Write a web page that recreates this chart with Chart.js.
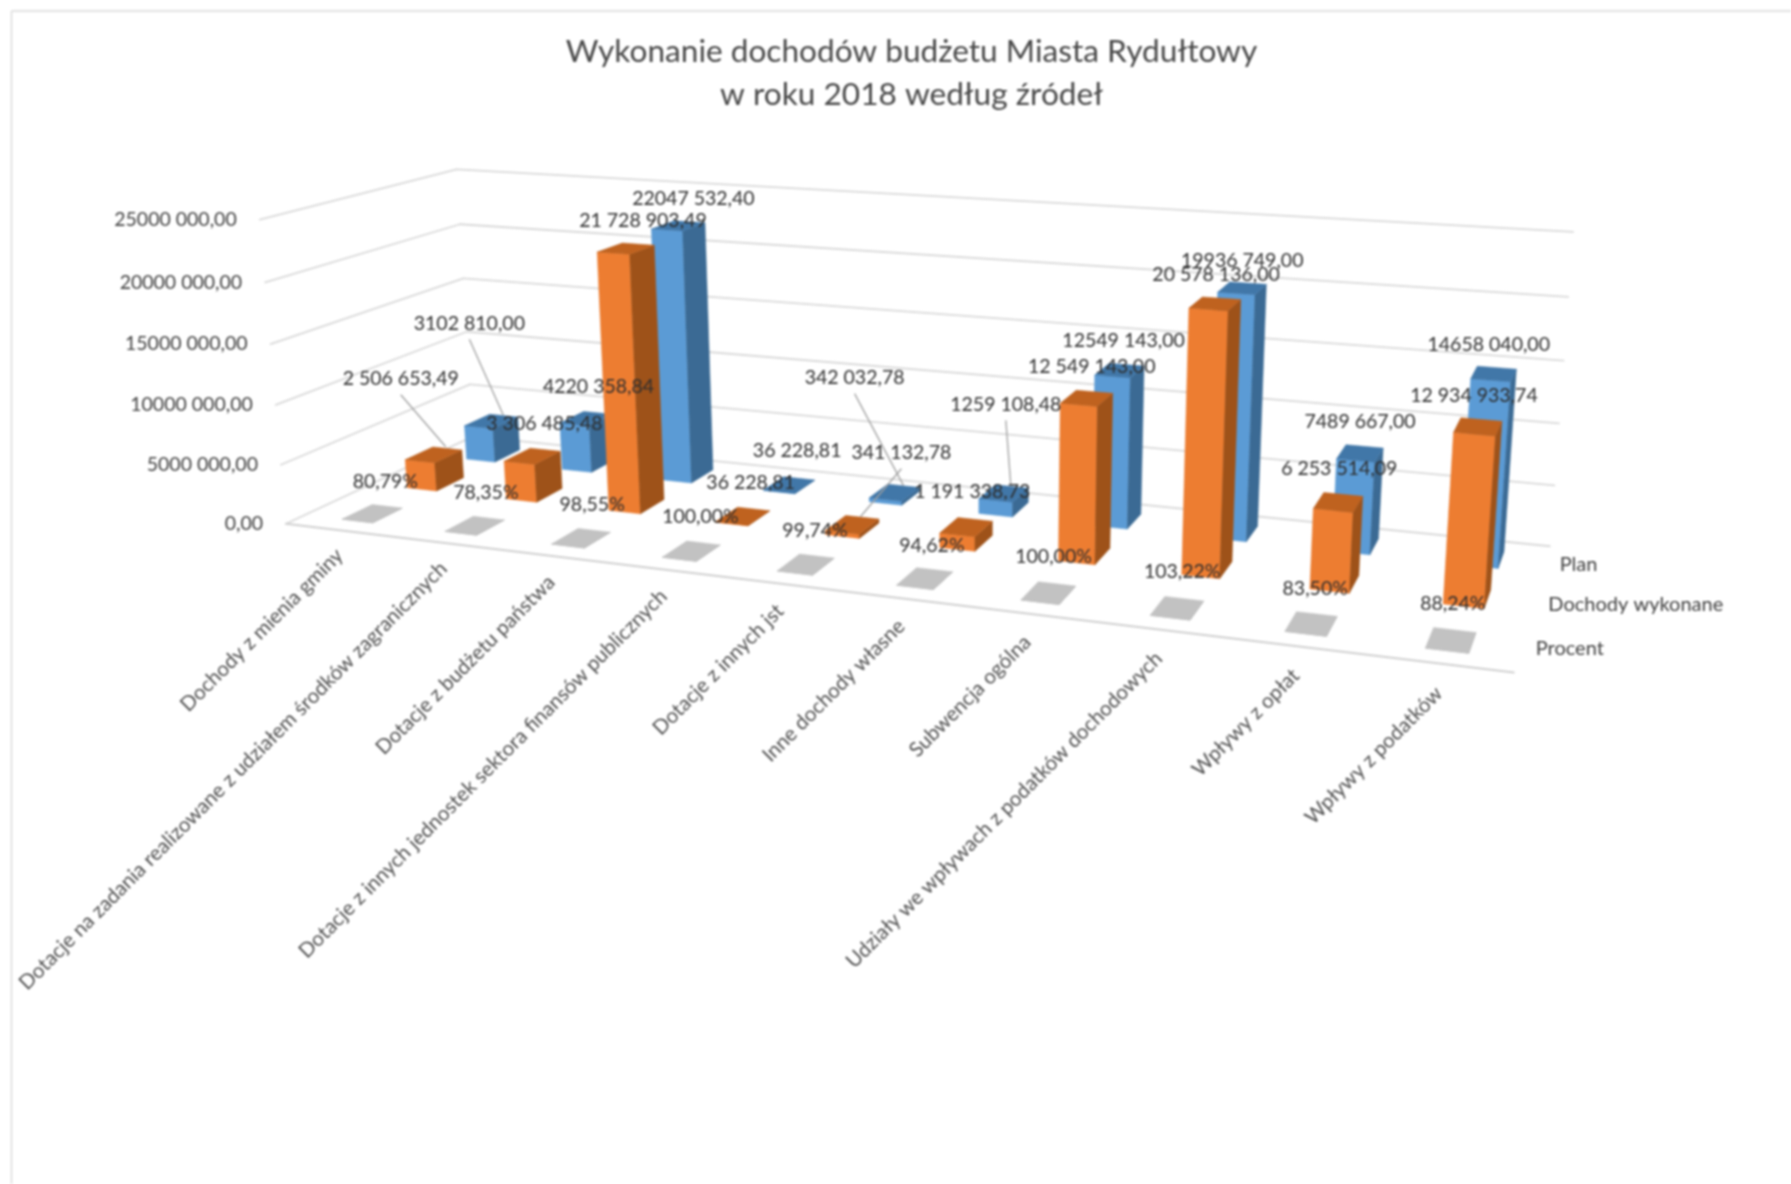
<!DOCTYPE html>
<html lang="pl"><head><meta charset="utf-8">
<script src="https://cdn.jsdelivr.net/npm/chart.js@4/dist/chart.umd.min.js"></script>
<style>html,body{margin:0;background:#fff;overflow:hidden}#w{position:absolute;left:0;top:0;width:1791px;height:1184px;filter:blur(0.8px)}</style>
</head><body><div id="w"><canvas id="c" width="1791" height="1184"></canvas></div>
<script>
const categories = ['Dochody z mienia gminy','Dotacje na zadania realizowane z udziałem środków zagranicznych','Dotacje z budżetu państwa','Dotacje z innych jednostek sektora finansów publicznych','Dotacje z innych jst','Inne dochody własne','Subwencja ogólna','Udziały we wpływach z podatków dochodowych','Wpływy z opłat','Wpływy z podatków'];
const plan = [3102810.00,4220358.84,22047532.40,36228.81,342032.78,1259108.48,12549143.00,19936749.00,7489667.00,14658040.00];
const wykonane = [2506653.49,3306485.48,21728903.49,36228.81,341132.78,1191338.73,12549143.00,20578136.00,6253514.09,12934933.74];
const procent = [80.79,78.35,98.55,100.00,99.74,94.62,100.00,103.22,83.50,88.24];

// data-label offsets from the projected top of each bar (page px)
const labelOffsets = [
 [[-22,-98],[12,-32],[15,-27],[8,-34],[-40,-115],[2,-89],[4,-30],[0,-28],[0,-32],[-5,-29]],
 [[-33,-76],[12,-32],[17,-28],[8,-33],[49,-72],[6,-35],[5,-31],[1,-29],[1,-34],[-4,-31]],
 [[13,-32],[11,-33],[11,-33],[9,-34],[9,-34],[7,-33],[5,-36],[5,-36],[4,-35],[2,-36]]
];
// leader lines: series, category, end offset from the bar's top centre
const leaders = [[0,0,12,-6],[1,0,12,-8],[0,4,9,-7],[1,4,8,-8],[0,5,7,-8]];
const FONT='Lato, "Open Sans", sans-serif';
const SIDE={ '#5B9BD5':'#3B6A94', '#ED7D31':'#9E5219', '#A5A5A5':'#8a8a8a' };
const TOP={ '#5B9BD5':'#4177A8', '#ED7D31':'#BF621F', '#A5A5A5':'#C2C2C2' };
const ROW_V=[5/6,1/2,1/6], HALF_D=0.075, BAR_U_SHIFT=0.0015;

// camera fit: axis-frame corners (u along categories, v depth, w height) → page
const frame=[];
const FL=[[286,523],[282,464],[275,405],[270,344],[265,283],[260,220]];
const BL=[[473,437],[469,385],[468,333],[464,277],[459,224],[457,169]];
const BR=[[1550,546],[1554,485],[1559,423],[1564,361],[1568,297],[1573,232]];
for(let i=0;i<6;i++){frame.push([0,0,i/5,...FL[i]],[0,1,i/5,...BL[i]],[1,1,i/5,...BR[i]]);}
frame.push([1,0,0,1514,673]);
function fitCamera(pts){
  const n=11,A=Array.from({length:n},()=>new Array(n+1).fill(0));
  const add=(r,b)=>{for(let i=0;i<n;i++){for(let j=0;j<n;j++)A[i][j]+=r[i]*r[j];A[i][n]+=r[i]*b;}};
  for(const [X,Y,Z,px,py] of pts){const x=px/1000,y=py/1000;
    add([X,Y,Z,1,0,0,0,0,-x*X,-x*Y,-x*Z],x);
    add([0,0,0,0,X,Y,Z,1,-y*X,-y*Y,-y*Z],y);}
  for(let c=0;c<n;c++){let m=c;for(let r=c+1;r<n;r++)if(Math.abs(A[r][c])>Math.abs(A[m][c]))m=r;[A[c],A[m]]=[A[m],A[c]];
    for(let r=0;r<n;r++){if(r===c)continue;const f=A[r][c]/A[c][c];for(let k=c;k<=n;k++)A[r][k]-=f*A[c][k];}}
  return A.map((r,i)=>r[n]/r[i]);
}
const P=fitCamera(frame);
function proj(u,v,w){const d=P[8]*u+P[9]*v+P[10]*w+1;
  return [1000*(P[0]*u+P[1]*v+P[2]*w+P[3])/d,1000*(P[4]*u+P[5]*v+P[6]*w+P[7])/d];}

function fmtPlan(n){const s=n.toFixed(2).split('.');const a=s[0];return (a.length>3?a.slice(0,-3)+' '+a.slice(-3):a)+','+s[1];}
function fmtFull(n){const s=n.toFixed(2).split('.');return s[0].replace(/\B(?=(\d{3})+$)/g,' ')+','+s[1];}
function fmtPct(n){return n.toFixed(2).replace('.',',')+'%';}
const FORMATS=[fmtPlan,fmtFull,fmtPct];

function poly(ctx,pts,fill){ctx.beginPath();pts.forEach((p,i)=>i?ctx.lineTo(p[0],p[1]):ctx.moveTo(p[0],p[1]));ctx.closePath();ctx.fillStyle=fill;ctx.fill();ctx.strokeStyle=fill;ctx.lineWidth=.5;ctx.stroke();}
function line(ctx,a,b,col,lw){ctx.beginPath();ctx.moveTo(a[0],a[1]);ctx.lineTo(b[0],b[1]);ctx.strokeStyle=col;ctx.lineWidth=lw;ctx.stroke();}
function barGeom(chart,el){const xs=chart.scales.x,ys=chart.scales.y;return {u:(el.x-xs.left)/xs.width+BAR_U_SHIFT,h:el.width/2/xs.width,w:(ys.bottom-el.y)/ys.height};}

const persp={id:'persp',
  beforeDraw(chart){const c=chart.ctx;c.save();line(c,[11.5,11],[1791,11],'#D9D9D9',1.5);line(c,[11.5,11],[11.5,1184],'#D9D9D9',1.5);c.restore();},
  beforeDatasetsDraw(chart){const c=chart.ctx,ys=chart.scales.y;c.save();c.lineCap='round';
    ys.ticks.forEach(t=>{const w=(ys.bottom-ys.getPixelForValue(t.value))/ys.height;
      const a=proj(0,0,w),b=proj(0,1,w),d=proj(1,1,w);line(c,a,b,'#D9D9D9',1.8);line(c,b,d,'#D9D9D9',1.8);});
    line(c,proj(0,0,0),proj(1,0,0),'#D0D0D0',2);c.restore();},
  beforeDatasetDraw(chart,args){const c=chart.ctx,ds=chart.data.datasets[args.index],col=ds.backgroundColor,v=ROW_V[args.index];
    c.save();args.meta.data.forEach(el=>{const g=barGeom(chart,el),u0=g.u-g.h,u1=g.u+g.h,v0=v-HALF_D,v1=v+HALF_D;
      poly(c,[proj(u0,v0,0),proj(u1,v0,0),proj(u1,v0,g.w),proj(u0,v0,g.w)],col);
      poly(c,[proj(u1,v0,0),proj(u1,v1,0),proj(u1,v1,g.w),proj(u1,v0,g.w)],SIDE[col]);
      poly(c,[proj(u0,v0,g.w),proj(u1,v0,g.w),proj(u1,v1,g.w),proj(u0,v1,g.w)],TOP[col]);});
    c.restore();return false;},
  afterDatasetsDraw(chart){const c=chart.ctx,xs=chart.scales.x,ys=chart.scales.y;c.save();
    c.font='19.5px '+FONT;c.fillStyle='#404040';c.textAlign='right';c.textBaseline='middle';
    ys.ticks.forEach(t=>{const w=(ys.bottom-ys.getPixelForValue(t.value))/ys.height,p=proj(0,0,w);c.fillText(t.label,p[0]-23,p[1]);});
    categories.forEach((lab,i)=>{const u=(xs.getPixelForValue(i)-xs.left)/xs.width,p=proj(u,0,0);
      c.save();c.translate(p[0]+3-4*u,p[1]+22+5*u);c.rotate(-Math.PI/4);c.font='20.5px '+FONT;c.fillStyle='#505050';c.textAlign='right';c.textBaseline='middle';c.fillText(lab,0,0);c.restore();});
    chart.data.datasets.forEach((d,k)=>{const p=proj(1,ROW_V[k],0);c.font='20px '+FONT;c.fillStyle='#404040';c.textAlign='left';c.fillText(d.label,p[0]+15,p[1]);});
    const anc=(k,i)=>{const g=barGeom(chart,chart.getDatasetMeta(k).data[i]);return proj(g.u,ROW_V[k],g.w);};
    const lab=(k,i)=>{const a=anc(k,i),o=labelOffsets[k][i];return [a[0]+o[0],a[1]+o[1]];};
    leaders.forEach(([k,i,ex,ey])=>{const a=anc(k,i),l=lab(k,i);line(c,[l[0],l[1]+16],[a[0]+ex,a[1]+ey],'#A0A0A0',1.3);});
    c.font='19.5px '+FONT;c.fillStyle='#2E2E2E';c.textAlign='center';
    chart.data.datasets.forEach((d,k)=>{d.data.forEach((val,i)=>{const l=lab(k,i);c.fillText(FORMATS[k](val),l[0],l[1]);});});
    c.restore();}
};
new Chart(document.getElementById('c'),{type:'bar',plugins:[persp],
 data:{labels:categories,datasets:[
  {label:'Plan',data:plan,backgroundColor:'#5B9BD5',order:3},
  {label:'Dochody wykonane',data:wykonane,backgroundColor:'#ED7D31',order:2},
  {label:'Procent',data:procent,backgroundColor:'#A5A5A5',order:1}]},
 options:{responsive:false,animation:false,
  layout:{padding:{left:32}},
  datasets:{bar:{grouped:false,categoryPercentage:1,barPercentage:0.3}},
  plugins:{legend:{display:false},tooltip:{enabled:false},
   title:{display:true,text:['Wykonanie dochodów budżetu Miasta Rydułtowy','w roku 2018 według źródeł'],color:'#484848',font:{family:FONT,size:31.6,weight:'normal',lineHeight:1.34},padding:{top:31,bottom:10}}},
  scales:{x:{display:false,type:'category'},
   y:{display:false,type:'linear',min:0,max:25000000,ticks:{stepSize:5000000,callback:v=>fmtPlan(v)}}}}});
</script></body></html>
